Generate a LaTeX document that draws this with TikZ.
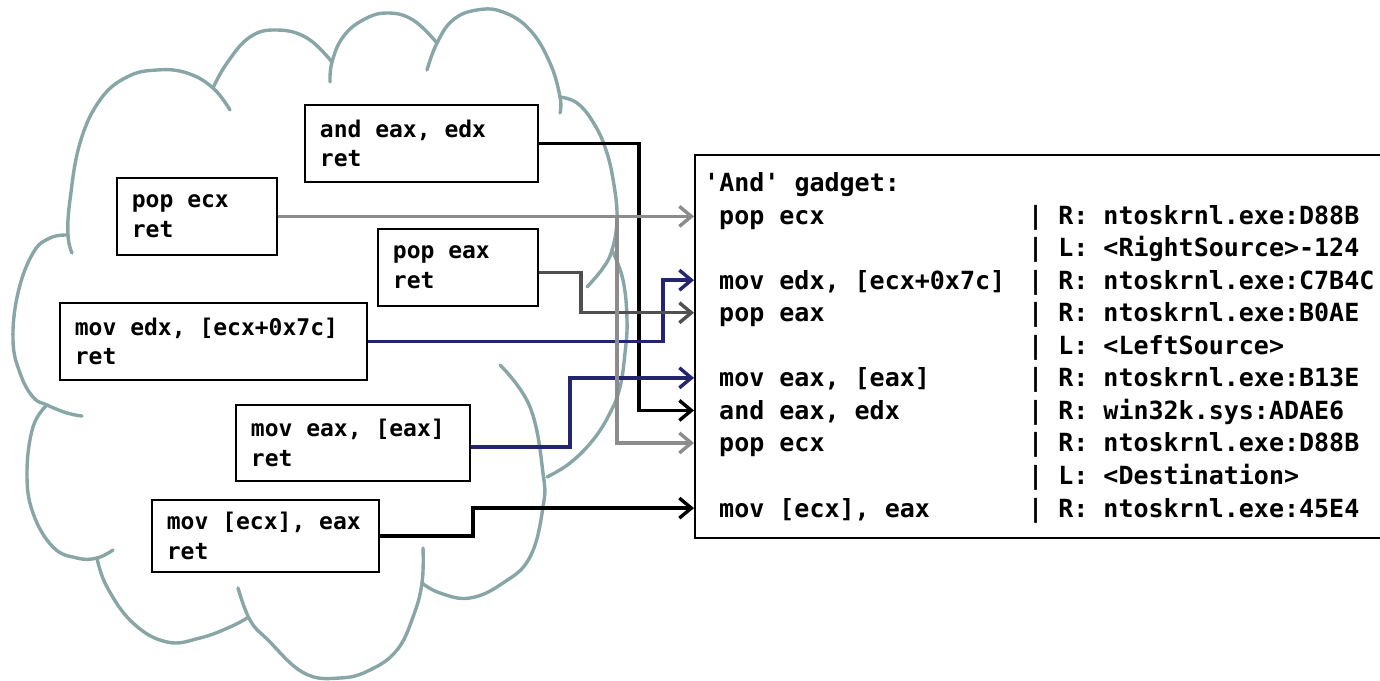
\documentclass[tikz,border=0pt]{standalone}
\usepackage{fontspec}
\newfontfamily\cmono{DejaVu Sans Mono}[WordSpace={1,0,0}]
\usetikzlibrary{arrows.meta}
\definecolor{cloudc}{RGB}{136,166,166}
\definecolor{navyc}{RGB}{36,36,112}
\definecolor{lgrey}{RGB}{140,140,140}
\definecolor{dgrey}{RGB}{80,80,80}
\begin{document}
\begin{tikzpicture}[x=1pt,y=-1pt,
  cloudline/.style={draw=cloudc, line width=3.4pt, line cap=round},
  gbox/.style={draw=black, line width=1.8pt, fill=white, anchor=north west, inner xsep=15pt, inner ysep=0pt, align=flush left, font=\cmono\bfseries\fontsize{23}{29.5}\selectfont},
  rowtext/.style={anchor=base west, inner sep=0pt, font=\cmono\bfseries\fontsize{25}{30}\selectfont},
  conn/.style={line width=3.8pt, -{Straight Barb[length=12pt,width=20pt,line width=3.4pt]}},
]
\useasboundingbox (0,0) rectangle (1380,680);
\clip (0,0) rectangle (1380,680);
\fill[white] (0,0) rectangle (1380,680);

% cloud
\draw[cloudline] plot[smooth, tension=0.7] coordinates {(82,416) (67,413) (47,405) (33,397) (20,373) (13,340) (18,293) (33,253) (50,238) (68,235)};
\draw[cloudline] plot[smooth, tension=0.7] coordinates {(72,253) (68,235) (70,200) (80,143) (100,100) (127,77) (157,70) (187,73) (213,88) (230,110)};
\draw[cloudline] plot[smooth, tension=0.7] coordinates {(213,88) (227,63) (250,37) (277,30) (307,38) (332,62)};
\draw[cloudline] plot[smooth, tension=0.7] coordinates {(330,82) (332,62) (343,37) (363,20) (387,13) (413,20) (437,43)};
\draw[cloudline] plot[smooth, tension=0.7] coordinates {(427,70) (437,43) (453,20) (477,10) (503,12) (530,30) (550,63) (560,97) (560,113)};
\draw[cloudline] plot[smooth, tension=0.7] coordinates {(560,97) (577,103) (593,122) (606,150) (614,185) (617,220) (612,250) (603,268) (587,287)};
\draw[cloudline] plot[smooth, tension=0.7] coordinates {(612,250) (623,280) (627,320) (625,353) (620,387) (610,413) (593,440) (570,463) (547,477)};
\draw[cloudline] plot[smooth, tension=0.7] coordinates {(500,365) (530,407) (543,473) (543,507) (530,557) (503,583) (470,598) (440,593) (422,583)};
\draw[cloudline] plot[smooth, tension=0.7] coordinates {(423,548) (422,583) (413,617) (397,650) (370,670) (340,678) (304,673) (268,640) (250,620) (238,588)};
\draw[cloudline] plot[smooth, tension=0.7] coordinates {(97,558) (107,587) (133,623) (167,642) (200,638) (230,627) (247,618)};
\draw[cloudline] plot[smooth, tension=0.7] coordinates {(47,405) (33,427) (27,473) (33,513) (53,547) (77,558) (97,558) (113,550)};

% gadget boxes
\node[gbox, text width=203pt, minimum height=77pt] (andg) at (304,104) {and eax, edx\\ret};
\node[gbox, text width=130pt, minimum height=77pt] (popecx) at (116,177) {pop ecx\\ret};
\node[gbox, text width=130pt, minimum height=77pt] (popeax) at (377,228) {pop eax\\ret};
\node[gbox, text width=277pt, minimum height=77pt] (movedx) at (59,302) {mov edx, [ecx+0x7c]\\ret};
\node[gbox, text width=204pt, minimum height=76pt] (moveax) at (235,404) {mov eax, [eax]\\ret};
\node[gbox, text width=197pt, minimum height=72pt] (movecx) at (151,499) {mov [ecx], eax\\ret};

% chain box
\node[draw=black, line width=1.8pt, fill=white, anchor=north west, minimum width=720pt, minimum height=383pt, inner sep=0pt] (gadget) at (694,154) {};
\foreach \i in {0,...,10} { \coordinate (y\i) at (694, 182.5+32.56*\i); }

\node[rowtext] (h0) at (704, 191.5) {\textquotesingle And\textquotesingle{} gadget:};
\node[rowtext] (l1) at (719, 182.5+32.56*1+9) {pop ecx};
\node[rowtext] (l3) at (719, 182.5+32.56*3+9) {mov edx, [ecx+0x7c]};
\node[rowtext] (l4) at (719, 182.5+32.56*4+9) {pop eax};
\node[rowtext] (l6) at (719, 182.5+32.56*6+9) {mov eax, [eax]};
\node[rowtext] (l7) at (719, 182.5+32.56*7+9) {and eax, edx};
\node[rowtext] (l8) at (719, 182.5+32.56*8+9) {pop ecx};
\node[rowtext] (l10) at (719, 182.5+32.56*10+9) {mov [ecx], eax};

\node[rowtext] (r1) at (1028, 182.5+32.56*1+9) {| R: ntoskrnl.exe:D88B};
\node[rowtext] (r2) at (1028, 182.5+32.56*2+9) {| L: <RightSource>-124};
\node[rowtext] (r3) at (1028, 182.5+32.56*3+9) {| R: ntoskrnl.exe:C7B4C};
\node[rowtext] (r4) at (1028, 182.5+32.56*4+9) {| R: ntoskrnl.exe:B0AE};
\node[rowtext] (r5) at (1028, 182.5+32.56*5+9) {| L: <LeftSource>};
\node[rowtext] (r6) at (1028, 182.5+32.56*6+9) {| R: ntoskrnl.exe:B13E};
\node[rowtext] (r7) at (1028, 182.5+32.56*7+9) {| R: win32k.sys:ADAE6};
\node[rowtext] (r8) at (1028, 182.5+32.56*8+9) {| R: ntoskrnl.exe:D88B};
\node[rowtext] (r9) at (1028, 182.5+32.56*9+9) {| L: <Destination>};
\node[rowtext] (r10) at (1028, 182.5+32.56*10+9) {| R: ntoskrnl.exe:45E4};

% routing columns
\coordinate (xa) at (639,0);
\coordinate (xb) at (617,0);
\coordinate (xc) at (581,0);
\coordinate (xd) at (663,0);
\coordinate (xe) at (570,0);
\coordinate (xf) at (473,0);

% connectors
\draw[conn, draw=black] (andg.east) -| (xa |- y7) -- (gadget.west |- y7);
\draw[conn, draw=navyc] (movedx.east) -| (xd |- y3) -- (gadget.west |- y3);
\draw[conn, draw=navyc] ([yshift=-4pt]moveax.east) -| (xe |- y6) -- (gadget.west |- y6);
\draw[conn, draw=black] (movecx.east) -| (xf |- y10) -- (gadget.west |- y10);
\draw[conn, draw=dgrey, line width=3.4pt] ([yshift=-5pt]popeax.east) -| (xc |- y4) -- (gadget.west |- y4);
\draw[conn, draw=lgrey, line width=3.4pt] (popecx.east) -- (gadget.west |- popecx.east);
\draw[conn, draw=lgrey, line width=3.4pt] (popecx.east -| xb) |- (gadget.west |- y8);
\end{tikzpicture}
\end{document}
